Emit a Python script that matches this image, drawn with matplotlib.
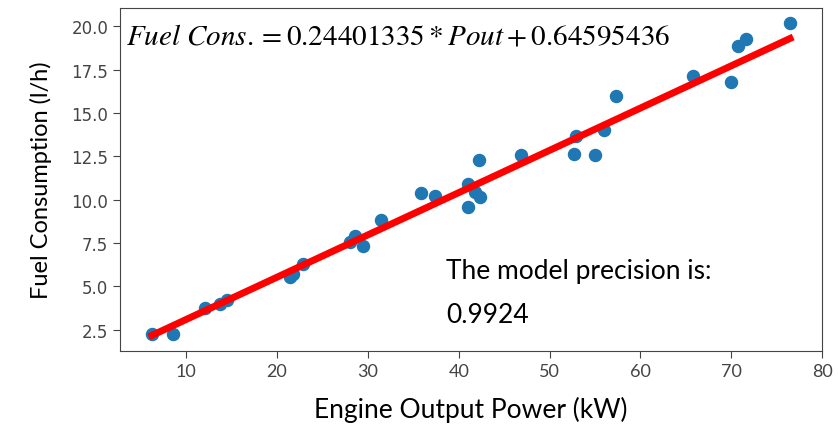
import matplotlib
matplotlib.use("Agg")
import matplotlib.pyplot as plt
import numpy as np

# engine output power (kW) and measured fuel consumption (l/h)
power = [6.22, 8.54, 12.09, 13.74, 14.48, 21.45, 21.8, 22.84, 28.05, 28.6,
         29.51, 31.43, 35.83, 37.4, 41.07, 41.07, 41.81, 42.36, 42.28, 46.84,
         52.7, 52.92, 55.01, 56.0, 57.33, 65.77, 69.95, 70.72, 71.63, 76.47]
fuel = [2.27, 2.27, 3.77, 4.0, 4.18, 5.56, 5.7, 6.3, 7.58, 7.92,
        7.35, 8.84, 10.38, 10.22, 10.9, 9.56, 10.42, 10.17, 12.28, 12.56,
        12.62, 13.67, 12.58, 14.0, 16.01, 17.16, 16.78, 18.85, 19.29, 20.19]

slope = 0.24401335
intercept = 0.64595436
precision = 0.9924

plt.rcParams['mathtext.fontset'] = 'stix'

fig = plt.figure(figsize=(8.38, 4.27), dpi=100)
ax = fig.add_axes([0.1432, 0.1756, 0.8378, 0.8044])

x = np.array(power)
ax.scatter(x, fuel, s=75, color='#1f77b4', zorder=2)
xs = np.array([x.min(), x.max()])
ax.plot(xs, slope * xs + intercept, color='red', lw=5, zorder=3)

ax.set_xticks(range(10, 90, 10))
ax.set_yticks([2.5, 5.0, 7.5, 10.0, 12.5, 15.0, 17.5, 20.0])

for lab in ax.get_xticklabels():
    lab.set_family('Lato')
    lab.set_fontsize(13)
    lab.set_color('#444444')
for lab in ax.get_yticklabels():
    lab.set_fontsize(12)
    lab.set_color('#444444')
ax.tick_params(length=5, color='#444444')
for sp in ax.spines.values():
    sp.set_color('#444444')

ax.set_xlabel('Engine Output Power (kW)', family='Lato', fontsize=19, labelpad=12)
ax.set_ylabel('Fuel Consumption (l/h)', family='Lato', fontsize=17, labelpad=14)

ax.text(0.008, 0.96, r'$Fuel\ Cons. = %.8f * Pout + %.8f$' % (slope, intercept),
        transform=ax.transAxes, fontsize=21, va='top', ha='left')
ax.text(0.465, 0.235, 'The model precision is:', transform=ax.transAxes,
        family='Lato', fontsize=19, va='center')
ax.text(0.465, 0.107, '%.4f' % precision, transform=ax.transAxes,
        family='Lato', fontsize=19, va='center')

fig.savefig('out.png', dpi=100)
